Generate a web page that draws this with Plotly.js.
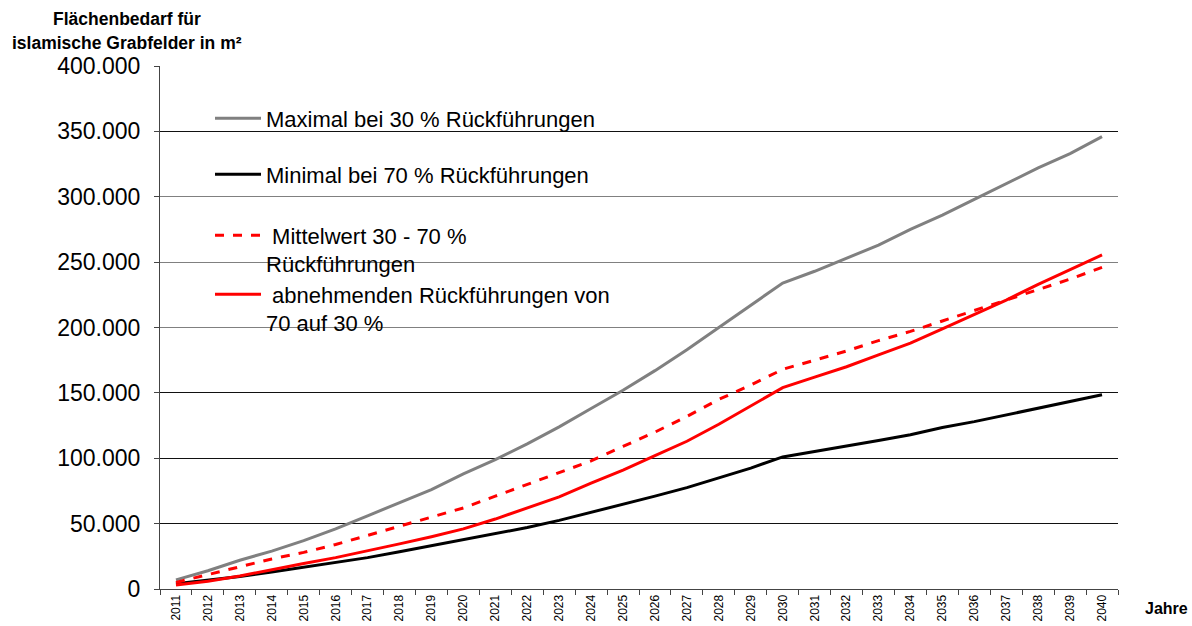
<!DOCTYPE html>
<html>
<head>
<meta charset="utf-8">
<script src="https://cdn.plot.ly/plotly-3.0.1.min.js"></script>
<style>
html,body{margin:0;padding:0;background:#fff;}
#chart{width:1192px;height:626px;}
</style>
</head>
<body>
<div id="chart"></div>
<script>
const years = ['2011','2012','2013','2014','2015','2016','2017','2018','2019','2020',
  '2021','2022','2023','2024','2025','2026','2027','2028','2029','2030',
  '2031','2032','2033','2034','2035','2036','2037','2038','2039','2040'];

const maximal = [7000,14000,22000,29000,37000,46000,56000,66000,76000,88000,
  99000,111000,124000,138000,152000,167000,183000,200000,217000,234000,
  243000,253000,263000,275000,286000,298000,310000,322000,333000,346000];

const minimal = [4000,6500,9500,13000,16500,20000,24000,28500,33000,37500,
  42000,47000,52500,58500,64500,71000,77500,85000,92500,101000,
  105000,109500,113500,118000,123500,128000,133000,138000,143000,148500];

const mittelwert = [5000,11000,17000,23000,28000,34000,41000,48000,55000,62000,
  71000,80000,89000,98000,109000,120000,132000,145000,156000,168000,
  175000,182000,190000,197000,205000,213000,221000,229000,237000,246000];

const abnehmend = [3000,6000,10000,15000,19500,24000,29000,34500,40000,46000,
  53500,62000,70500,81000,91000,102000,113000,126000,140000,154000,
  162000,170000,179000,188000,199000,210000,221000,233000,244000,255500];

const yTicks = [0,50000,100000,150000,200000,250000,300000,350000,400000];
const grayGridTicks = [200000,250000,300000];

const names = [
  'Maximal bei 30 % Rückführungen',
  'Minimal bei 70 % Rückführungen',
  '\u00a0Mittelwert 30 - 70 %<br>Rückführungen',
  '\u00a0abnehmenden Rückführungen von<br>70 auf 30 %'
];

const traces = [
  {x: years, y: maximal, name: names[0], legend: 'legend', mode: 'lines', line: {color: '#808080', width: 3}},
  {x: years, y: minimal, name: names[1], legend: 'legend2', mode: 'lines', line: {color: '#000000', width: 3}},
  {x: years, y: mittelwert, name: names[2], legend: 'legend3', mode: 'lines', line: {color: '#ff0000', width: 3, dash: 'dash'}},
  {x: years, y: abnehmend, name: names[3], legend: 'legend4', mode: 'lines', line: {color: '#ff0000', width: 3}},
  {x: [], y: [], yaxis: 'y2', showlegend: false, mode: 'lines', hoverinfo: 'skip'}
];

const font = 'Liberation Sans, Arial, sans-serif';
function leg(y) {
  return {
    x: 0.0522, y: y, xanchor: 'left', yanchor: 'top',
    bgcolor: 'rgba(0,0,0,0)', borderwidth: 0, itemwidth: 46,
    font: {family: font, size: 22, color: '#000'}, valign: 'top'
  };
}

const layout = {
  width: 1192, height: 626,
  margin: {l: 160, r: 74, t: 66, b: 37},
  paper_bgcolor: '#fff', plot_bgcolor: '#fff',
  separators: ',.',
  font: {family: font, color: '#000'},
  showlegend: true,
  legend: leg(0.9398),
  legend2: leg(0.8327),
  legend3: leg(0.7161),
  legend4: leg(0.6033),
  xaxis: {
    type: 'category', categoryorder: 'array', categoryarray: years,
    range: [-0.5, 29.5],
    tickson: 'boundaries', ticks: 'outside', ticklen: 5, tickcolor: '#444',
    showline: true, linecolor: '#444', linewidth: 1,
    showgrid: false, zeroline: false,
    tickangle: -90, tickfont: {family: font, size: 12, color: '#000'}
  },
  yaxis: {
    range: [0, 400000], tickvals: yTicks, tickformat: ',d',
    ticks: 'outside', ticklen: 5, tickcolor: '#444', ticklabelstandoff: 9,
    showline: true, linecolor: '#444', linewidth: 1,
    showgrid: true, gridcolor: '#111', gridwidth: 1,
    zeroline: false,
    tickfont: {family: font, size: 23, color: '#000'}
  },
  yaxis2: {
    overlaying: 'y', side: 'left', range: [0, 400000],
    tickvals: grayGridTicks, showticklabels: false, ticks: '',
    showgrid: true, gridcolor: '#808080', gridwidth: 1,
    showline: false, zeroline: false
  },
  shapes: [
    {type: 'rect', xref: 'paper', yref: 'paper', x0: 0.0501, x1: 0.4833, y0: 0.4857, y1: 0.935,
     fillcolor: '#ffffff', line: {width: 0}, layer: 'between'}
  ],
  annotations: [
    {xref: 'paper', yref: 'paper', x: -0.0344, y: 1.0, yshift: 47, xanchor: 'center', yanchor: 'middle',
     text: '<b>Flächenbedarf für</b>', showarrow: false, font: {family: font, size: 17.5, color: '#000'}},
    {xref: 'paper', yref: 'paper', x: -0.0344, y: 1.0, yshift: 23, xanchor: 'center', yanchor: 'middle',
     text: '<b>islamische Grabfelder in m²</b>', showarrow: false, font: {family: font, size: 17.5, color: '#000'}},
    {xref: 'paper', yref: 'paper', x: 1.0, y: 0, xshift: 48, yshift: -19, xanchor: 'center', yanchor: 'middle',
     text: '<b>Jahre</b>', showarrow: false, font: {family: font, size: 16, color: '#000'}}
  ]
};

Plotly.newPlot('chart', traces, layout, {displayModeBar: false, staticPlot: true});
</script>
</body>
</html>
